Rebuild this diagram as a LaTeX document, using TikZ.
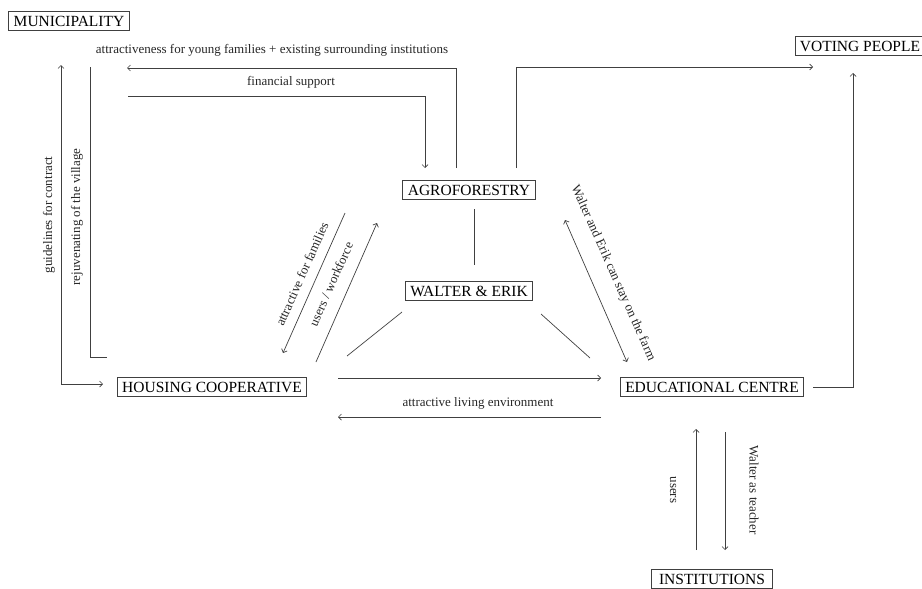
\documentclass[tikz,border=0pt]{standalone}
\usepackage{fontspec}
\setmainfont{Liberation Serif}
\usetikzlibrary{arrows.meta}

\begin{document}
\begin{tikzpicture}[x=1pt,y=-1pt,
	actor/.style={shape=rectangle,draw=black!75,line width=0.8pt,inner xsep=5pt,inner ysep=0pt,minimum height=19pt,font=\fontsize{15.5}{17}\selectfont},
	link/.style={draw=black!75,line width=0.7pt},
	flow/.style={link,-{Straight Barb[length=3pt,width=6pt]}},
	flowboth/.style={link,{Straight Barb[length=3pt,width=6pt]}-{Straight Barb[length=3pt,width=6pt]}},
	lbl/.style={font=\fontsize{13}{15}\selectfont,text=black!85,inner sep=1pt}]

	\useasboundingbox (0,0) rectangle (922,589);

	\node[actor] (muni) at (69, 21)   {MUNICIPALITY};
	\node[actor] (vote) at (860, 46)  {VOTING PEOPLE};
	\node[actor] (agro) at (469, 190) {AGROFORESTRY};
	\node[actor] (we)   at (469, 291) {WALTER \& ERIK};
	\node[actor] (hous) at (212, 387) {HOUSING COOPERATIVE};
	\node[actor] (edu)  at (712, 387) {EDUCATIONAL CENTRE};
	\node[actor,minimum width=121pt] (inst) at (712, 579) {INSTITUTIONS};

	% free ends on the municipality side
	\coordinate (muniIn)   at (127, 68);
	\coordinate (muniOut)  at (128, 96);
	\coordinate (guideTop) at (61, 65);
	\coordinate (rejTop)   at (90, 67);

	% municipality
	\draw[flow] ([xshift=-13pt,yshift=22pt]agro.center) |- (muniIn);
	\draw[flow] (muniOut) -| ([xshift=-44pt,yshift=22pt]agro.center);
	\draw[flowboth] (guideTop) |- ([xshift=-109pt,yshift=3pt]hous.center);
	\draw[link] (rejTop) |- ([xshift=-105pt,yshift=30pt]hous.center);

	% voting people
	\draw[flow] ([xshift=47pt,yshift=22pt]agro.center) |- ([xshift=-47pt,yshift=-21pt]vote.center);
	\draw[flow] ([xshift=101pt]edu.center) -| ([xshift=-7pt,yshift=-27pt]vote.center);

	% triangle
	\draw[flow] ([xshift=-124pt,yshift=-23pt]agro.center) -- ([xshift=71pt,yshift=34pt]hous.center);
	\draw[flow] ([xshift=104pt,yshift=25pt]hous.center) -- ([xshift=-92pt,yshift=-33pt]agro.center);
	\draw[flowboth] ([xshift=96pt,yshift=-30pt]agro.center) -- ([xshift=-85pt,yshift=25pt]edu.center);
	\draw[flow] ([xshift=126pt,yshift=9pt]hous.center) -- ([xshift=-111pt,yshift=9pt]edu.center);
	\draw[flow] ([xshift=-111pt,yshift=-30pt]edu.center) -- ([xshift=126pt,yshift=-30pt]hous.center);

	% walter & erik
	\draw[link] ([xshift=5pt,yshift=-19pt]agro.center) -- ([xshift=5pt,yshift=26pt]we.center);
	\draw[link] ([xshift=-67pt,yshift=-21pt]we.center) -- ([xshift=135pt,yshift=31pt]hous.center);
	\draw[link] ([xshift=72pt,yshift=-23pt]we.center) -- ([xshift=-122pt,yshift=29pt]edu.center);

	% institutions
	\draw[flow] ([xshift=-16pt,yshift=29pt]inst.center) -- ([xshift=-16pt,yshift=-42pt]edu.center);
	\draw[flow] ([xshift=13pt,yshift=-45pt]edu.center) -- ([xshift=13pt,yshift=29pt]inst.center);

	% labels
	\node[lbl] (lAttr)  at (272, 50)  {attractiveness for young families + existing surrounding institutions};
	\node[lbl] (lFin)   at (291, 82)  {financial support};
	\node[lbl,rotate=90] (lGuide) at (49, 215) {guidelines for contract};
	\node[lbl,rotate=90] (lRej)   at (77, 217) {rejuvenating of the village};
	\node[lbl,rotate=66] (lFam)   at (302, 274) {attractive for families};
	\node[lbl,rotate=66] (lWork)  at (331, 284) {users / workforce};
	\node[lbl,rotate=-66] (lFarm) at (613, 273) {Walter and Erik can stay on the farm};
	\node[lbl] (lLiving) at (478, 403) {attractive living environment};
	\node[lbl,rotate=-90] (lUsers)  at (673, 490) {users};
	\node[lbl,rotate=-90] (lTeach)  at (754, 490) {Walter as teacher};

\end{tikzpicture}
\end{document}
